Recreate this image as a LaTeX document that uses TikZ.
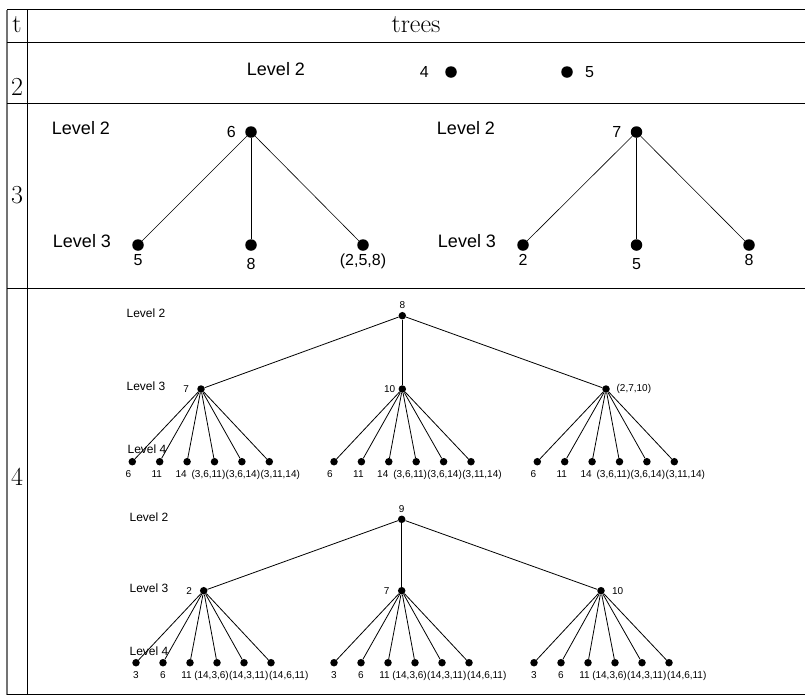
\documentclass[tikz,border=0pt]{standalone}
\usepackage{fontspec}
\setsansfont{Liberation Sans}
\usetikzlibrary{positioning}

\tikzset{
  bigdot/.style={circle, fill=black, inner sep=0pt, minimum size=11.5pt},
  smalldot/.style={circle, fill=black, inner sep=0pt, minimum size=7.5pt},
  hdr/.style={font=\fontsize{26}{26}\selectfont, inner sep=0pt},
  lvl/.style={font=\sffamily\fontsize{18}{18}\selectfont, inner sep=0pt},
  lbl/.style={font=\sffamily\fontsize{16}{16}\selectfont, inner sep=0pt},
  smlvl/.style={font=\sffamily\fontsize{12}{12}\selectfont, inner sep=0pt},
  smlbl/.style={font=\sffamily\fontsize{10}{10}\selectfont, inner sep=0pt},
  thinedge/.style={line width=0.6pt},
  edge/.style={line width=0.8pt},
  rule/.style={line width=1pt}
}

\begin{document}
\begin{tikzpicture}[x=1pt,y=-1pt]
\useasboundingbox (0,0) rectangle (805,697);

% table
\draw[line width=1.3pt, black!55] (7,9.5) -- (7,694.7);
\draw[rule] (27.5,9.5) -- (27.5,694.7);
\foreach \y in {9.5,42.3,103.3,288.7,694.7}
  \draw[rule] (7,\y) -- (805,\y);

\node[hdr] (tcol) at (17,25) {t};
\node[hdr] (trees) at (416,25) {trees};
\node[hdr] (rowtwo) at (17,87) {2};
\node[hdr] (rowthree) at (17,195) {3};
\node[hdr] (rowfour) at (17,477) {4};

% t = 2
\node[lvl] (lvA) at (276,69) {Level 2};
\node[bigdot] (n4) at (451,72) {};
\node[lbl, left=16pt of n4] (t4) {4};
\node[bigdot] (n5) at (567,72) {};
\node[lbl, right=12pt of n5] (t5) {5};

% t = 3
\node[lvl] (lvB) at (81,128) {Level 2};
\node[lvl] (lvC) at (82,241) {Level 3};
\node[bigdot] (r6) at (251,132) {};
\node[lbl, left=9pt of r6] (t6) {6};
\node[bigdot] (c5) at (138,245) {};
\node[bigdot] (c8) at (251,245) {};
\node[bigdot] (c258) at (363,245) {};
\node[lbl, below=3pt of c5] (tc5) {5};
\node[lbl, below=7pt of c8] (tc8) {8};
\node[lbl, below=3pt of c258] (tc258) {(2,5,8)};
\draw[thinedge] (r6) -- (c5);
\draw[thinedge] (r6) -- (c8);
\draw[thinedge] (r6) -- (c258);

\node[lvl] (lvG) at (466,128) {Level 2};
\node[lvl] (lvH) at (467,241) {Level 3};
\node[bigdot] (r7) at (636.5,132) {};
\node[lbl, left=9pt of r7] (t7) {7};
\node[bigdot] (d2) at (523,245) {};
\node[bigdot] (d5) at (636.5,245) {};
\node[bigdot] (d8) at (749,245) {};
\node[lbl, below=3pt of d2] (td2) {2};
\node[lbl, below=7pt of d5] (td5) {5};
\node[lbl, below=3pt of d8] (td8) {8};
\draw[thinedge] (r7) -- (d2);
\draw[thinedge] (r7) -- (d5);
\draw[thinedge] (r7) -- (d8);

% t = 4, first tree
\node[smlvl] (lvD) at (146,313) {Level 2};
\node[smlvl] (lvE) at (146,386) {Level 3};
\node[smlvl] (lvF) at (147,449) {Level 4};
\node[smalldot] (a8) at (402.3,315.7) {};
\node[smlbl, above=3pt of a8] (ta8) {8};
\node[smalldot] (b7) at (201,389) {};
\node[smlbl, left=8pt of b7] (tb7) {7};
\node[smalldot] (b10) at (402.3,389) {};
\node[smlbl, left=3pt of b10] (tb10) {10};
\node[smalldot] (b2710) at (606,389) {};
\node[smlbl, right=6.5pt of b2710] (tb2710) {(2,7,10)};
\draw[edge] (a8) -- (b7);
\draw[edge] (a8) -- (b10);
\draw[edge] (a8) -- (b2710);

\foreach \p/\x in {b7/132.3, b10/334, b2710/537.3}
  \foreach \k in {0,...,5}
  {
    \node[smalldot] (\p-\k) at (\x+27.4*\k,461.7) {};
    \draw[edge] (\p) -- (\p-\k);
  }
\foreach \p in {b7,b10,b2710}
  \foreach \k/\dx/\t in {0/-4/6, 1/-3/11, 2/-6/14, 3/-6/{(3,6,11)}, 4/1/{(3,6,14)}, 5/11/{(3,11,14)}}
    \node[smlbl, below=4.5pt of \p-\k, xshift=\dx pt] (\p-t\k) {\t};

% t = 4, second tree
\node[smlvl] (lvI) at (149,517) {Level 2};
\node[smlvl] (lvJ) at (149,588) {Level 3};
\node[smlvl] (lvK) at (149,651) {Level 4};
\node[smalldot] (a9) at (401.7,519.3) {};
\node[smlbl, above=3pt of a9] (ta9) {9};
\node[smalldot] (e2) at (203.7,590.7) {};
\node[smlbl, left=7.5pt of e2] (te2) {2};
\node[smalldot] (e7) at (401.7,590.7) {};
\node[smlbl, left=8pt of e7] (te7) {7};
\node[smalldot] (e10) at (601,590.7) {};
\node[smlbl, right=7pt of e10] (te10) {10};
\draw[edge] (a9) -- (e2);
\draw[edge] (a9) -- (e7);
\draw[edge] (a9) -- (e10);

\foreach \p/\x in {e2/136, e7/334, e10/534}
  \foreach \k in {0,...,5}
  {
    \node[smalldot] (\p-\k) at (\x+27*\k,662.7) {};
    \draw[edge] (\p) -- (\p-\k);
  }
\foreach \p in {e2,e7,e10}
  \foreach \k/\dx/\t in {0/0/3, 1/0/6, 2/-3.5/11, 3/-5.5/{(14,3,6)}, 4/4.7/{(14,3,11)}, 5/17.7/{(14,6,11)}}
    \node[smlbl, below=4.5pt of \p-\k, xshift=\dx pt] (\p-t\k) {\t};
\end{tikzpicture}
\end{document}
